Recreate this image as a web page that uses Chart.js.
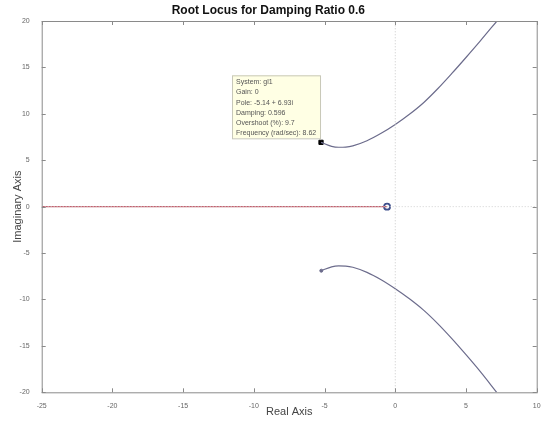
<!DOCTYPE html>
<html>
<head>
<meta charset="utf-8">
<script src="https://cdn.jsdelivr.net/npm/chart.js@4/dist/chart.umd.min.js"></script>
<style>
  body { margin: 0; background: #fff; }
  #wrap { width: 543px; height: 424px; }
</style>
</head>
<body>
<div id="wrap"><canvas id="locus" width="543" height="424"></canvas></div>
<script>
// branches of the root locus (real part, imaginary part)
const upperRe = [-5.25, -4.5, -4, -3.5, -3, -2, -1, 0, 1, 2, 3, 4, 5, 6, 7.19];
const upperIm = [6.93, 6.5, 6.4, 6.42, 6.55, 7.1, 7.9, 8.85, 9.95, 11.2, 12.7, 14.35, 16.07, 17.83, 20];
const lowerRe = [-5.23, -4.5, -4, -3.5, -3, -2, -1, 0, 1, 2, 3, 4, 5, 6, 7.17];
const lowerIm = [-6.9, -6.48, -6.38, -6.4, -6.53, -7.08, -7.88, -8.85, -9.93, -11.15, -12.6, -14.22, -15.95, -17.75, -20];
// real axis branch and the zero
const realBranchRe = [-25, -0.6];
const zeroRe = [-0.58];
// selected pole (data tip)
const tipPole = { re: -5.25, im: 6.93 };
const tipLines = [
  "System: gl1",
  "Gain: 0",
  "Pole: -5.14 + 6.93i",
  "Damping: 0.596",
  "Overshoot (%): 9.7",
  "Frequency (rad/sec): 8.62",
];
const xTicks = [-25, -20, -15, -10, -5, 0, 5, 10];
const yTicks = [-20, -15, -10, -5, 0, 5, 10, 15, 20];

const pts = (xs, ys) => xs.map((x, i) => ({ x: x, y: ys[i] }));

const frame = {
  id: "frame",
  afterDatasetsDraw(chart) {
    const c = chart.ctx, a = chart.chartArea;
    const sx = chart.scales.x, sy = chart.scales.y;
    c.save();
    c.strokeStyle = "#8a8a8a";
    c.lineWidth = 1;
    c.strokeRect(a.left + 0.5, a.top + 0.5, a.right - a.left, a.bottom - a.top);
    c.beginPath();
    xTicks.forEach(v => {
      const px = Math.round(sx.getPixelForValue(v)) + 0.5;
      c.moveTo(px, a.bottom); c.lineTo(px, a.bottom - 4);
      c.moveTo(px, a.top); c.lineTo(px, a.top + 4);
    });
    yTicks.forEach(v => {
      const py = Math.round(sy.getPixelForValue(v)) + 0.5;
      c.moveTo(a.left, py); c.lineTo(a.left + 4, py);
      c.moveTo(a.right, py); c.lineTo(a.right - 4, py);
    });
    c.stroke();

    // data tip box
    const px = sx.getPixelForValue(tipPole.re), py = sy.getPixelForValue(tipPole.im);
    const w = 88, h = 63;
    const bx = px - w - 1, by = py - h - 4;
    c.fillStyle = "#ffffe4";
    c.fillRect(bx, by, w, h);
    c.strokeStyle = "#c8c8b8";
    c.strokeRect(bx + 0.5, by + 0.5, w, h);
    c.fillStyle = "#555";
    c.font = "7px 'Liberation Sans', Arial, sans-serif";
    c.textBaseline = "middle";
    tipLines.forEach((t, i) => c.fillText(t, bx + 4, by + 7 + i * 10.2));
    c.restore();
  },
};

new Chart(document.getElementById("locus").getContext("2d"), {
  type: "scatter",
  data: {
    datasets: [
      {
        data: [{ x: -25, y: 0 }, { x: 10, y: 0 }],
        showLine: true, borderColor: "#d0d0d0", borderWidth: 1, borderDash: [1, 2], pointRadius: 0,
      },
      {
        data: [{ x: 0, y: -20 }, { x: 0, y: 20 }],
        showLine: true, borderColor: "#c8c8c8", borderWidth: 1, borderDash: [1, 2], pointRadius: 0,
      },
      {
        data: realBranchRe.map(x => ({ x: x, y: 0 })),
        showLine: true, borderColor: "#c4606e", borderWidth: 1.3, pointRadius: 0,
      },
      {
        data: pts(upperRe, upperIm),
        showLine: true, borderColor: "#6c6c8c", borderWidth: 1.2, cubicInterpolationMode: "monotone", pointRadius: 0,
      },
      {
        data: pts(lowerRe, lowerIm),
        showLine: true, borderColor: "#6c6c8c", borderWidth: 1.2, cubicInterpolationMode: "monotone", pointRadius: 0,
      },
      {
        data: [{ x: lowerRe[0], y: lowerIm[0] }],
        pointStyle: "circle", pointRadius: 1.5, backgroundColor: "#6c6c8c", borderColor: "#6c6c8c",
      },
      {
        data: zeroRe.map(x => ({ x: x, y: 0 })),
        pointStyle: "circle", pointRadius: 3, borderWidth: 1.8, backgroundColor: "#fff", borderColor: "#3f4f8c",
      },
      {
        data: [{ x: tipPole.re, y: tipPole.im }],
        pointStyle: "rect", pointRadius: 3, backgroundColor: "#000", borderColor: "#000",
      },
    ],
  },
  plugins: [frame],
  options: {
    responsive: false,
    animation: false,
    events: [],
    layout: { padding: { left: 0, right: 6.3, top: 0, bottom: 0 } },
    plugins: {
      legend: { display: false },
      tooltip: { enabled: false },
      title: {
        display: true,
        text: "Root Locus for Damping Ratio 0.6",
        color: "#111",
        font: { family: "'Liberation Sans', Arial, sans-serif", size: 12, weight: "bold" },
        padding: { top: 3, bottom: 3.6 },
      },
    },
    scales: {
      x: {
        type: "linear", min: -25, max: 10,
        afterBuildTicks: s => { s.ticks = xTicks.map(v => ({ value: v })); },
        afterFit: s => { s.height = 31.7; s.paddingLeft = 0; s.paddingRight = 0; },
        grid: { display: false },
        border: { display: false },
        ticks: { color: "#666", padding: 2, font: { family: "'Liberation Sans', Arial, sans-serif", size: 7 } },
        title: {
          display: true, text: "Real Axis", color: "#444",
          font: { family: "'Liberation Sans', Arial, sans-serif", size: 11 },
          padding: { top: 0, bottom: 5 },
        },
      },
      y: {
        type: "linear", min: -20, max: 20,
        afterBuildTicks: s => { s.ticks = yTicks.map(v => ({ value: v })); },
        afterFit: s => { s.width = 41.7; s.paddingTop = 0; s.paddingBottom = 0; },
        grid: { display: false },
        border: { display: false },
        ticks: { color: "#666", padding: 4, font: { family: "'Liberation Sans', Arial, sans-serif", size: 7 } },
        title: {
          display: true, text: "Imaginary Axis", color: "#444",
          font: { family: "'Liberation Sans', Arial, sans-serif", size: 11 },
          padding: { top: 11, bottom: 0 },
        },
      },
    },
  },
});
</script>
</body>
</html>
